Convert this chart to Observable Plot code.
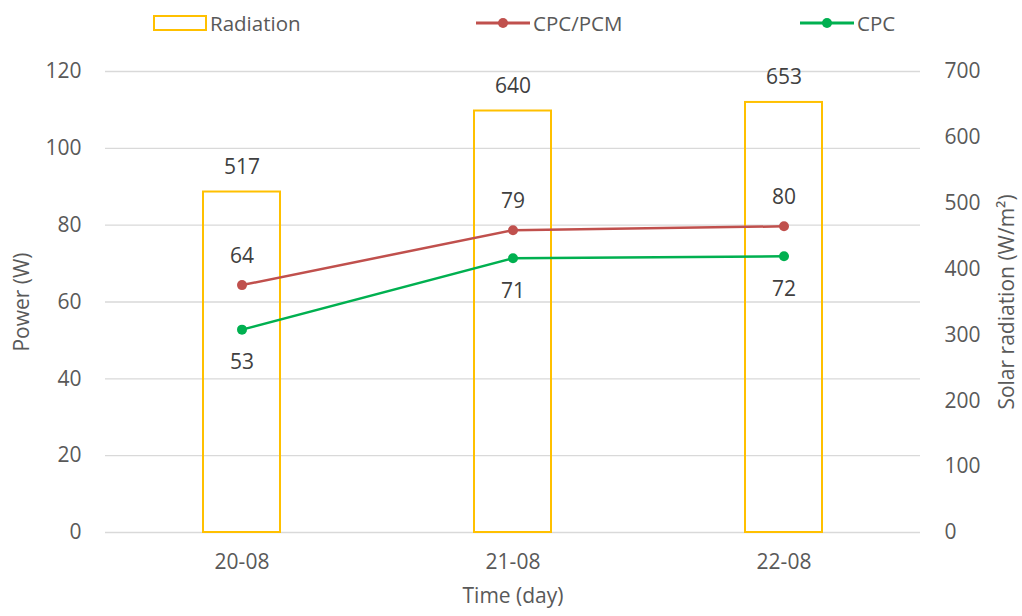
<!DOCTYPE html>
<html>
<head>
<meta charset="utf-8">
<script src="https://cdn.jsdelivr.net/npm/d3@7"></script>
<script src="https://cdn.jsdelivr.net/npm/@observablehq/plot@0.6"></script>
<style>
  html, body { margin: 0; padding: 0; background: #fff; }
  #wrap { position: relative; width: 1022px; height: 616px; font-family: "Open Sans", sans-serif; color: #595959; }
  #legend { position: relative; width: 1022px; height: 45px; font-size: 20.5px; }
  .lg { position: absolute; top: 0; height: 45px; display: flex; align-items: center; }
</style>
</head>
<body>
<div id="wrap">
  <div id="legend"></div>
  <div id="chart"></div>
</div>
<script>
const days = ["20-08", "21-08", "22-08"];
const radiation = [517, 640, 653];
const cpcPcm = [64.4, 78.7, 79.7];
const cpc = [52.8, 71.4, 71.9];
const powerTicks = [0, 20, 40, 60, 80, 100, 120];
const radTicks = [0, 100, 200, 300, 400, 500, 600, 700];
const seriesNames = ["Radiation", "CPC/PCM", "CPC"];
const colors = ["#FFC000", "#C0504D", "#00B050"];
const axisTitles = ["Power (W)", "Solar radiation (W/m²)", "Time (day)"];

const k = 120 / 700; // radiation -> power units
const radData = days.map((d, i) => ({day: d, v: radiation[i] * k, label: radiation[i]}));
const pcmData = days.map((d, i) => ({day: d, v: cpcPcm[i]}));
const cpcData = days.map((d, i) => ({day: d, v: cpc[i]}));
const fmt = d3.format(".0f");
const font = "Open Sans";
const fs = 21;

const chart = Plot.plot({
  width: 1022,
  height: 571,
  marginLeft: 105,
  marginRight: 102,
  marginTop: 26,
  marginBottom: 84,
  style: {fontFamily: font, fontSize: fs + "px", color: "#595959", background: "white"},
  x: {type: "band", domain: days, padding: 0},
  y: {domain: [0, 120]},
  marks: [
    Plot.gridY(powerTicks, {stroke: "#d9d9d9", strokeOpacity: 1, strokeWidth: 1.3}),
    Plot.barY(radData, {x: "day", y: "v", fill: "none", stroke: colors[0], strokeWidth: 2, insetLeft: 97, insetRight: 97}),
    Plot.line(pcmData, {x: "day", y: "v", stroke: colors[1], strokeWidth: 2.5}),
    Plot.dot(pcmData, {x: "day", y: "v", fill: colors[1], r: 5}),
    Plot.line(cpcData, {x: "day", y: "v", stroke: colors[2], strokeWidth: 2.5}),
    Plot.dot(cpcData, {x: "day", y: "v", fill: colors[2], r: 5}),
    Plot.text(radData, {x: "day", y: "v", text: d => String(d.label), dy: -25, fill: "#404040", fontSize: fs}),
    Plot.text(pcmData, {x: "day", y: "v", text: d => fmt(d.v), dy: -29, fill: "#404040", fontSize: fs}),
    Plot.text(cpcData, {x: "day", y: "v", text: d => fmt(d.v), dy: 33, fill: "#404040", fontSize: fs}),
    Plot.axisY(powerTicks, {anchor: "left", tickSize: 0, tickPadding: 24, label: null, fontSize: fs}),
    Plot.axisY(radTicks.map(v => v * k), {anchor: "right", tickSize: 0, tickPadding: 24, tickFormat: d => fmt(d / k), label: null, fontSize: fs}),
    Plot.axisX({anchor: "bottom", tickSize: 0, tickPadding: 22, label: null, fontSize: fs}),
    Plot.text([axisTitles[0]], {frameAnchor: "left", textAnchor: "middle", dx: -83, rotate: -90, fontSize: fs, fill: "#595959"}),
    Plot.text([axisTitles[1]], {frameAnchor: "right", textAnchor: "middle", dx: 87, rotate: -90, fontSize: fs, fill: "#595959"}),
    Plot.text([axisTitles[2]], {frameAnchor: "bottom", dy: 70, fontSize: fs, fill: "#595959"})
  ]
});
document.getElementById("chart").appendChild(chart);

// legend
const legend = document.getElementById("legend");
const items = [
  {left: 153, kind: "box"},
  {left: 476, kind: "line"},
  {left: 800, kind: "line"}
];
items.forEach((it, i) => {
  const el = document.createElement("div");
  el.className = "lg";
  el.style.left = it.left + "px";
  let sym;
  if (it.kind === "box") {
    sym = `<svg width="54" height="16"><rect x="1" y="1" width="52" height="14" fill="none" stroke="${colors[i]}" stroke-width="2"/></svg>`;
  } else {
    sym = `<svg width="54" height="16"><line x1="0" x2="54" y1="8" y2="8" stroke="${colors[i]}" stroke-width="3"/><circle cx="27" cy="8" r="5" fill="${colors[i]}"/></svg>`;
  }
  el.innerHTML = sym + `<span style="margin-left:3px">${seriesNames[i]}</span>`;
  legend.appendChild(el);
});
</script>
</body>
</html>
